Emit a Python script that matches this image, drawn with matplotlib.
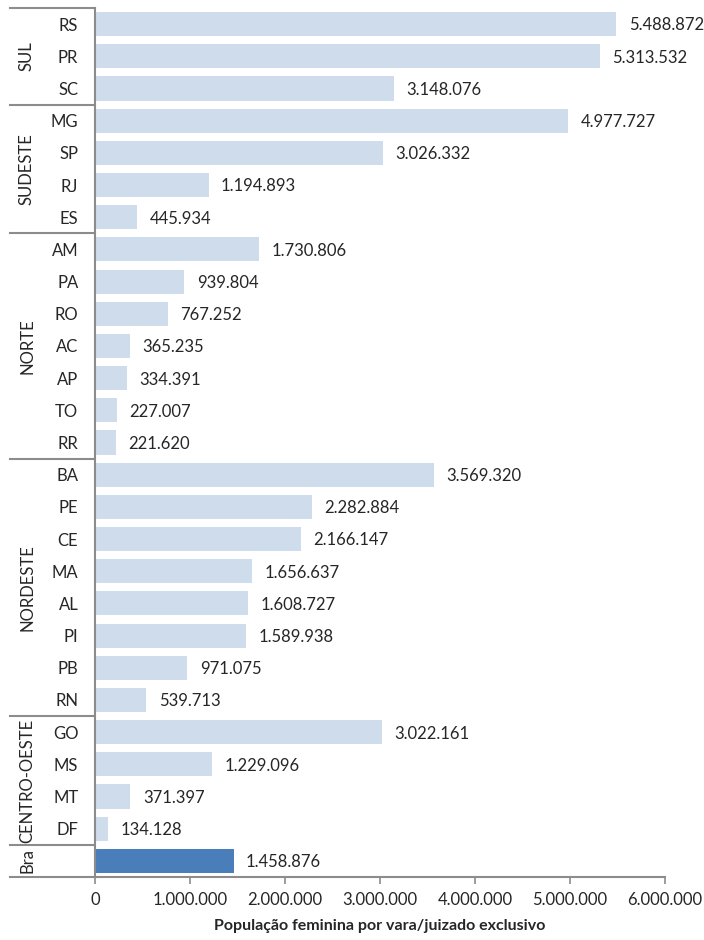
import matplotlib

matplotlib.use("Agg")
import matplotlib.pyplot as plt
from matplotlib.ticker import FuncFormatter
from matplotlib.transforms import blended_transform_factory

plt.rcParams["font.family"] = ["Lato", "DejaVu Sans"]

# state / region data, top to bottom
regions = ["SUL", "SUDESTE", "NORTE", "NORDESTE", "CENTRO-OESTE", "Bra"]
region_states = [
    ["RS", "PR", "SC"],
    ["MG", "SP", "RJ", "ES"],
    ["AM", "PA", "RO", "AC", "AP", "TO", "RR"],
    ["BA", "PE", "CE", "MA", "AL", "PI", "PB", "RN"],
    ["GO", "MS", "MT", "DF"],
    [""],
]
region_values = [
    [5488872, 5313532, 3148076],
    [4977727, 3026332, 1194893, 445934],
    [1730806, 939804, 767252, 365235, 334391, 227007, 221620],
    [3569320, 2282884, 2166147, 1656637, 1608727, 1589938, 971075, 539713],
    [3022161, 1229096, 371397, 134128],
    [1458876],
]
x_ticks = [0, 1000000, 2000000, 3000000, 4000000, 5000000, 6000000]

LIGHT = "#cfdcec"
DARK = "#4a7ebb"
AXIS = "#8c8c8c"
TEXT = "#262626"


def fmt_br(v, _pos=None):
    return f"{int(v):,}".replace(",", ".")


states = [s for group in region_states for s in group]
values = [v for group in region_values for v in group]
colors = [LIGHT] * (len(values) - 1) + [DARK]
ypos = list(range(len(values)))

fig = plt.figure(figsize=(7.04, 9.40), dpi=100)
ax = fig.add_axes([95 / 704, 1 - 877 / 940, 570 / 704, 869 / 940])

ax.barh(ypos, values, height=0.75, color=colors)
ax.set_ylim(len(values) - 0.5, -0.5)
ax.set_xlim(0, 6000000)

for y, v in zip(ypos, values):
    ax.annotate(fmt_br(v), (v, y), xytext=(9, -1), textcoords="offset points",
                ha="left", va="center", fontsize=12, color=TEXT)

ax.set_yticks(ypos)
ax.set_yticklabels(states, fontsize=12, color=TEXT)
ax.tick_params(axis="y", length=0, pad=12)

ax.set_xticks(x_ticks)
ax.xaxis.set_major_formatter(FuncFormatter(fmt_br))
ax.tick_params(axis="x", direction="out", length=5, width=1.2, color=AXIS,
               labelsize=12, labelcolor=TEXT, pad=6)
ax.set_xlabel("População feminina por vara/juizado exclusivo", fontsize=11.5,
              fontweight="bold", color=TEXT, labelpad=8)

for side in ("top", "right"):
    ax.spines[side].set_visible(False)
for side in ("left", "bottom"):
    ax.spines[side].set_color(AXIS)
    ax.spines[side].set_linewidth(1.5)

# region separators and rotated region names on the left
trans = blended_transform_factory(ax.transAxes, ax.transData)
x_left = -85 / 570
start = -0.5
for name, group in zip(regions, region_states):
    end = start + len(group)
    ax.plot([x_left, 0], [start, start], color=AXIS, lw=1.5, transform=trans,
            clip_on=False)
    ax.text(-68 / 570, (start + end) / 2, name, rotation=90, ha="center",
            va="center", fontsize=12, color=TEXT, transform=trans)
    start = end
ax.plot([x_left, 0], [start, start], color=AXIS, lw=1.5, transform=trans,
        clip_on=False)

fig.savefig("out.png", dpi=100)
